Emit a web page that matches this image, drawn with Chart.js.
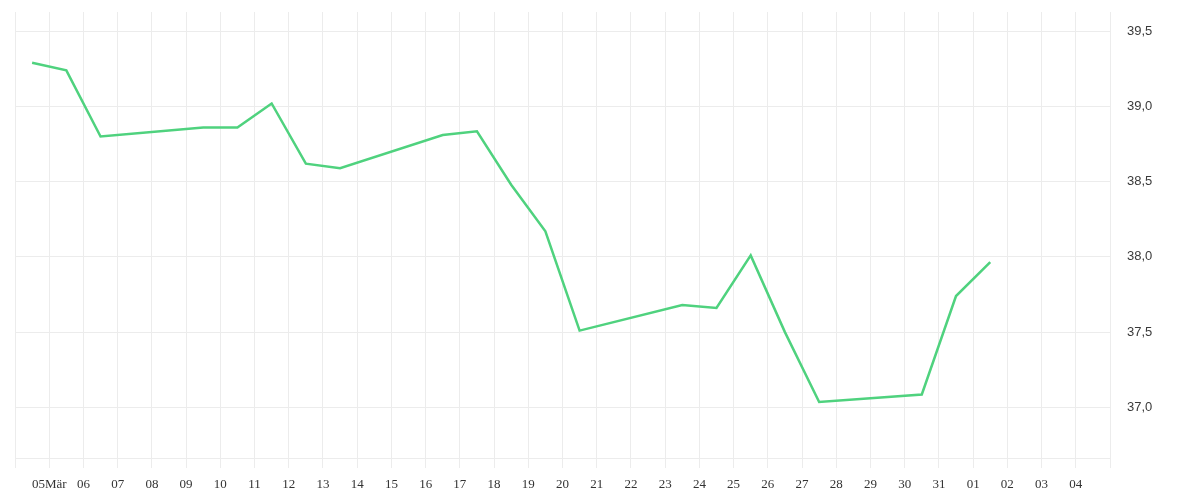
<!DOCTYPE html>
<html>
<head>
<meta charset="utf-8">
<script src="https://cdn.jsdelivr.net/npm/chart.js@4"></script>
<style>
  html, body { margin: 0; padding: 0; background: #fff; }
  #wrap { width: 1200px; height: 500px; }
</style>
</head>
<body>
<div id="wrap"><canvas id="myLineChart" width="1200" height="500"></canvas></div>
<script>
// days counted from 04 Mär (trading days only)
var dayIndex = [0, 1, 2, 5, 6, 7, 8, 9, 12, 13, 14, 15, 16, 19, 20, 21, 22, 23, 26, 27, 28];
var prices = [39.29, 39.24, 38.80, 38.86, 38.86, 39.02, 38.62, 38.59, 38.81, 38.835, 38.48,
              38.17, 37.51, 37.68, 37.66, 38.01, 37.50, 37.035, 37.085, 37.74, 37.965];
var tickLabels = ['', '05Mär', '06', '07', '08', '09', '10', '11', '12', '13', '14', '15', '16',
                  '17', '18', '19', '20', '21', '22', '23', '24', '25', '26', '27', '28', '29',
                  '30', '31', '01', '02', '03', '04', ''];
var yMin = 36.663, yMax = 39.628;

var points = [];
for (var i = 0; i < prices.length; i++) {
    points.push({x: dayIndex[i] + 0.5, y: prices[i]});
}

var gridColor = '#ececec';

var ctx = document.getElementById('myLineChart');
var myLineChart = new Chart(ctx, {
    type: 'line',
    data: {
        datasets: [{
            data: points,
            borderColor: '#4fd27e',
            borderWidth: 2.5,
            fill: false,
            pointRadius: 0,
            tension: 0
        }]
    },
    options: {
        responsive: false,
        animation: false,
        layout: { padding: { left: 15, top: 12, right: 0, bottom: 0 } },
        plugins: { legend: { display: false }, tooltip: { enabled: false } },
        scales: {
            x: {
                type: 'linear',
                min: 0,
                max: tickLabels.length - 1,
                afterFit: function(scale) { scale.height = 42; },
                grid: { color: gridColor, tickLength: 10, tickColor: gridColor },
                border: { color: gridColor },
                ticks: {
                    stepSize: 1,
                    autoSkip: false,
                    maxRotation: 0,
                    padding: 9,
                    color: '#333',
                    font: { family: 'Liberation Serif', size: 13 },
                    callback: function(v) { return tickLabels[v]; }
                }
            },
            y: {
                position: 'right',
                min: yMin,
                max: yMax,
                afterFit: function(scale) {
                    scale.width = 90;
                    scale.paddingTop = 0;
                    scale.paddingBottom = 0;
                },
                grid: { color: gridColor, drawTicks: false },
                border: { color: gridColor },
                ticks: {
                    stepSize: 0.5,
                    includeBounds: false,
                    padding: 17,
                    color: '#3a3a3a',
                    font: { family: 'Liberation Sans', size: 13 },
                    callback: function(v) { return v.toFixed(1).replace('.', ','); }
                }
            }
        }
    }
});
</script>
</body>
</html>
